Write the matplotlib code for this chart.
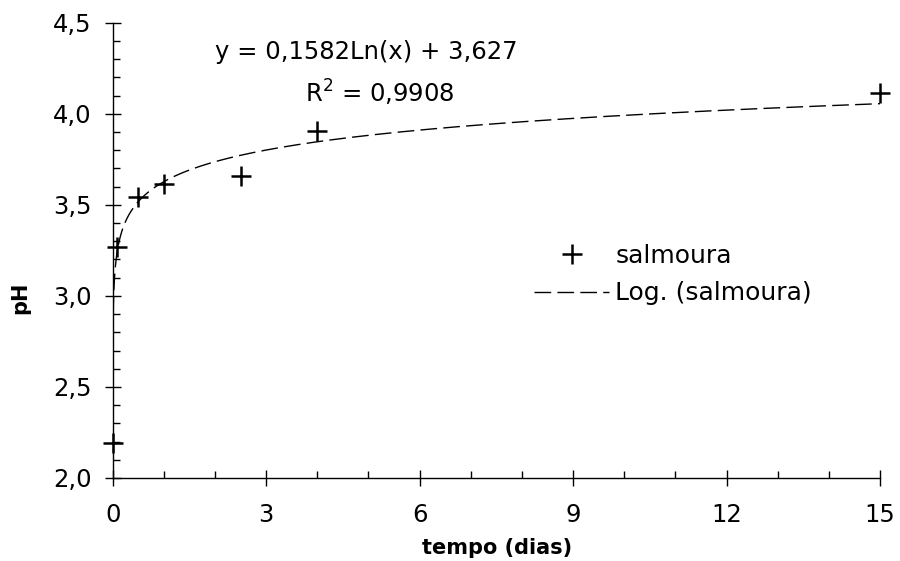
import numpy as np
import matplotlib
matplotlib.use("Agg")
import matplotlib.pyplot as plt
from matplotlib.ticker import MultipleLocator, FuncFormatter

# Data
tempo = [0.0, 0.083, 0.5, 1.0, 2.5, 4.0, 15.0]
ph = [2.19, 3.27, 3.545, 3.614, 3.658, 3.907, 4.113]
coef_a = 0.1582
coef_b = 3.627
y_ticks = [2.0, 2.5, 3.0, 3.5, 4.0, 4.5]
x_ticks = [0, 3, 6, 9, 12, 15]

plt.rcParams['font.family'] = ['DejaVu Sans']

fig = plt.figure(figsize=(9, 5.61), dpi=100)
ax = fig.add_axes([0.1252, 0.148, 0.8526, 0.8115])

# trend line
x_start = np.exp((2.15 - coef_b) / coef_a)
xt = np.geomspace(x_start, 15, 800)
yt = coef_a * np.log(xt) + coef_b
ax.plot(xt, yt, color='black', lw=1.0, ls=(0, (12, 4.5)), label='Log. (salmoura)', zorder=2)

ax.plot(tempo, ph, ls='none', marker='+', color='black', ms=14, mew=1.8,
        label='salmoura', zorder=3, clip_on=False)

ax.set_xlim(0, 15)
ax.set_ylim(2.0, 4.5)
ax.set_xticks(x_ticks)
ax.set_yticks(y_ticks)
ax.xaxis.set_minor_locator(MultipleLocator(1))
ax.yaxis.set_minor_locator(MultipleLocator(0.1))
ax.yaxis.set_major_formatter(FuncFormatter(lambda v, p: f"{v:.1f}".replace('.', ',')))
ax.xaxis.set_major_formatter(FuncFormatter(lambda v, p: f"{v:.0f}"))

for s in ['top', 'right']:
    ax.spines[s].set_visible(False)
for s in ['left', 'bottom']:
    ax.spines[s].set_linewidth(1.0)

ax.tick_params(which='major', direction='inout', length=12, width=1.0, labelsize=17.5)
ax.tick_params(axis='x', which='major', pad=12)
ax.tick_params(axis='y', which='major', pad=9)
ax.tick_params(which='minor', direction='in', length=5, width=1.0)

ax.set_xlabel('tempo (dias)', fontsize=15, fontweight='bold', va='center')
ax.xaxis.set_label_coords(0.501, -0.154)
ax.set_ylabel('pH', fontsize=15, fontweight='bold', va='center')
ax.yaxis.set_label_coords(-0.121, 0.396)

ax.text(0.1333, 0.936, 'y = 0,1582Ln(x) + 3,627', transform=ax.transAxes,
        fontsize=17.5, ha='left', va='center')
ax.text(0.2506, 0.846, r'R$^2$ = 0,9908', transform=ax.transAxes,
        fontsize=17.5, ha='left', va='center')

handles, labels = ax.get_legend_handles_labels()
leg = ax.legend([handles[1], handles[0]], [labels[1], labels[0]],
                loc='center left', bbox_to_anchor=(0.52, 0.447), frameon=False,
                fontsize=18, handlelength=3.0, handletextpad=0.25, labelspacing=0.55)

fig.savefig('out.png', dpi=100)
